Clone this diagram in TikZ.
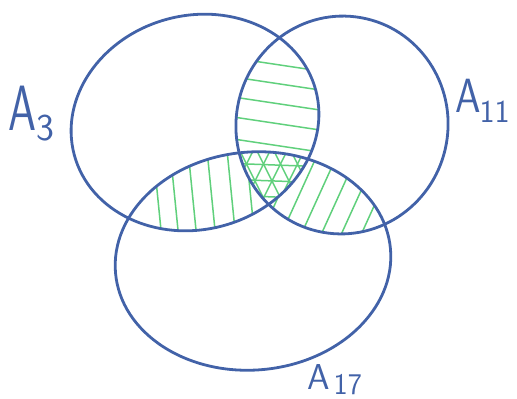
\documentclass[tikz,border=0pt]{standalone}
\usepackage{graphicx}
\definecolor{penblue}{RGB}{66,98,168}
\definecolor{pengreen}{RGB}{96,208,124}
\newcommand\shpA{[rotate around={15:(195,122.5)}] (195,122.5) ellipse [x radius=125pt, y radius=107pt]}
\newcommand\shpB{[rotate around={-10:(342,125)}] (342,125) ellipse [x radius=106pt, y radius=109pt]}
\newcommand\shpC{[rotate around={5:(253,261)}] (253,261) ellipse [x radius=138pt, y radius=109pt]}
\tikzset{
  outline/.style={draw=penblue,line width=2.8pt,line join=round},
  hatch/.style={draw=pengreen,line width=1.5pt,line cap=round},
  lbl/.style={text=penblue,inner sep=0pt,anchor=base west,font=\sffamily}
}
\begin{document}
\begin{tikzpicture}[x=1pt,y=-1pt]
\useasboundingbox (0,0) rectangle (517,399);
% A3 cap A11 : horizontal hatch
\begin{scope}
\clip \shpA; \clip \shpB;
\foreach \yy in {65,84,104,124,146} {
  \draw[hatch] (220,\yy-9) -- (340,\yy+9);
}
\end{scope}
% A3 cap A17 : vertical hatch
\begin{scope}
\clip \shpA; \clip \shpC;
\foreach \xx in {160,177,195,214,234,253} {
  \draw[hatch] (\xx+2,240) -- (\xx-8,140);
}
\end{scope}
% A11 cap A17 : diagonal hatch
\begin{scope}
\clip \shpB; \clip \shpC;
\foreach \i in {-3,...,5} {
  \draw[hatch] (250+20*\i,303) -- (350+20*\i,83);
}
\end{scope}
% A3 cap A11 cap A17 : cross hatch
\begin{scope}
\clip \shpA; \clip \shpB;
\fill[white] \shpC;
\clip \shpC;
\foreach \yy in {165,181,197} {
  \draw[hatch] (220,\yy-2) -- (330,\yy+2);
}
\foreach \i in {-3,...,3} {
  \draw[hatch] (272+17*\i,215) -- (312+17*\i,135);
  \draw[hatch] (272+17*\i,215) -- (232+17*\i,135);
}
\end{scope}
% outlines
\draw[outline] \shpA;
\draw[outline] \shpB;
\draw[outline] \shpC;
% labels
\node[lbl] (la3) at (8,130) {\scalebox{0.7}[1]{\fontsize{64}{64}\selectfont A}\raisebox{-10pt}{\fontsize{38}{38}\selectfont 3}};
\node[lbl] (la11) at (455,112) {\scalebox{0.85}[1]{\fontsize{48}{48}\selectfont A}\kern-1pt\raisebox{-10pt}{\fontsize{32}{32}\selectfont 11}};
\node[lbl] (la17) at (307,389) {\fontsize{36}{36}\selectfont A\kern4pt\raisebox{-5pt}{\fontsize{30}{30}\selectfont 17}};
\end{tikzpicture}
\end{document}
